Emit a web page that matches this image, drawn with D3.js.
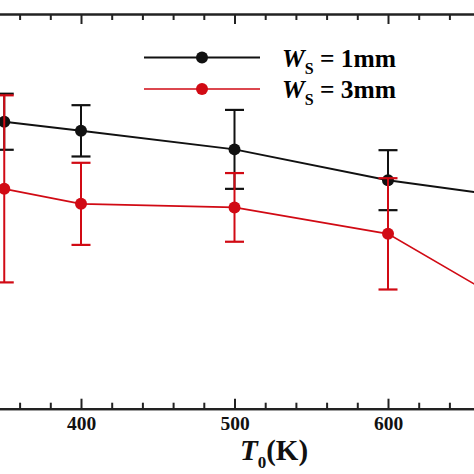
<!DOCTYPE html>
<html>
<head>
<meta charset="utf-8">
<script src="https://cdn.jsdelivr.net/npm/d3@7"></script>
<style>
  html, body { margin: 0; padding: 0; background: #fff; }
  svg { display: block; }
  text { font-family: "Liberation Serif", "Times New Roman", serif; font-weight: bold; }
</style>
</head>
<body>
<svg id="chart" width="474" height="474"></svg>
<script>
// ---- data ----
const temperatures = [350, 400, 500, 600, 700];
const seriesNames = ["1mm", "3mm"];
const ws1Values = [7.27, 7.04, 6.57, 5.79, 5.26];
const ws1Errors = [0.71, 0.65, 1.00, 0.76, 0.70];
const ws3Values = [5.57, 5.19, 5.10, 4.43, 2.17];
const ws3Errors = [2.37, 1.04, 0.87, 1.41, 1.00];
const majorTicks = [300, 400, 500, 600, 700];
const labelTicks = [400, 500, 600];
const minorTicks = d3.range(300, 701, 20).filter(v => v % 100 !== 0);

const colors = ["#111111", "#d10a14"];

const svg = d3.select("#chart");
svg.append("rect").attr("width", 474).attr("height", 474).attr("fill", "#fff");

const x = d3.scaleLinear().domain([300, 700]).range([-72.5, 541.5]);
const y = d3.scaleLinear().domain([0, 10]).range([408.7, 14]);

const axisColor = "#222";

function styleAxis(g) {
  g.selectAll("path.domain").attr("stroke", axisColor).attr("stroke-width", 2.2);
  g.selectAll(".tick line").attr("stroke", axisColor).attr("stroke-width", 2);
}

// bottom axis
const bY = 408.7;
svg.append("g").attr("transform", `translate(0,${bY})`)
  .call(d3.axisBottom(x).tickValues(minorTicks).tickSize(-6).tickSizeOuter(0).tickFormat(""))
  .call(styleAxis);
svg.append("g").attr("transform", `translate(0,${bY})`)
  .call(d3.axisBottom(x).tickValues(majorTicks).tickSize(-10).tickSizeOuter(0).tickFormat(""))
  .call(styleAxis);
const gL = svg.append("g").attr("transform", `translate(0,${bY})`)
  .call(d3.axisBottom(x).tickValues(labelTicks).tickSize(0).tickSizeOuter(0).tickPadding(7).tickFormat(d3.format("d")));
gL.select("path.domain").remove();
gL.selectAll(".tick line").remove();
gL.selectAll(".tick text").attr("font-size", 19.5).attr("fill", "#111")
  .attr("font-family", "Liberation Serif").attr("font-weight", "bold");

// top axis
const tY = 14;
svg.append("g").attr("transform", `translate(0,${tY})`)
  .call(d3.axisTop(x).tickValues(minorTicks).tickSize(-6).tickSizeOuter(0).tickFormat(""))
  .call(styleAxis);
svg.append("g").attr("transform", `translate(0,${tY})`)
  .call(d3.axisTop(x).tickValues(majorTicks).tickSize(-10).tickSizeOuter(0).tickFormat(""))
  .call(styleAxis);

// axis title
const title = svg.append("text").attr("x", 274).attr("y", 460).attr("text-anchor", "middle")
  .attr("font-size", 29).attr("fill", "#111");
title.append("tspan").attr("font-style", "italic").text("T");
title.append("tspan").attr("font-size", 17).attr("dy", 8).text("0");
title.append("tspan").attr("dy", -8).text("(K)");

// series
const series = [
  { name: seriesNames[0], values: ws1Values, errors: ws1Errors, color: colors[0], lw: 2 },
  { name: seriesNames[1], values: ws3Values, errors: ws3Errors, color: colors[1], lw: 1.6 }
];

const line = d3.line().x(d => x(d.t)).y(d => y(d.v));
const capHalf = 9.5;

series.forEach(s => {
  const pts = temperatures.map((t, i) => ({ t, v: s.values[i], e: s.errors[i] }));
  const g = svg.append("g");
  g.append("path").datum(pts).attr("d", line).attr("fill", "none")
    .attr("stroke", s.color).attr("stroke-width", s.lw);
  const eb = g.selectAll("g.eb").data(pts).enter().append("g");
  eb.append("line").attr("x1", d => x(d.t)).attr("x2", d => x(d.t))
    .attr("y1", d => y(d.v + d.e)).attr("y2", d => y(d.v - d.e))
    .attr("stroke", s.color).attr("stroke-width", 2);
  eb.append("line").attr("x1", d => x(d.t) - capHalf).attr("x2", d => x(d.t) + capHalf)
    .attr("y1", d => y(d.v + d.e)).attr("y2", d => y(d.v + d.e))
    .attr("stroke", s.color).attr("stroke-width", 2.2);
  eb.append("line").attr("x1", d => x(d.t) - capHalf).attr("x2", d => x(d.t) + capHalf)
    .attr("y1", d => y(d.v - d.e)).attr("y2", d => y(d.v - d.e))
    .attr("stroke", s.color).attr("stroke-width", 2.2);
  g.selectAll("circle").data(pts).enter().append("circle")
    .attr("cx", d => x(d.t)).attr("cy", d => y(d.v)).attr("r", 6)
    .attr("fill", s.color);
});

// legend
const legY = [57.5, 89];
series.forEach((s, i) => {
  const g = svg.append("g");
  g.append("line").attr("x1", 144).attr("x2", 260).attr("y1", legY[i]).attr("y2", legY[i])
    .attr("stroke", s.color).attr("stroke-width", s.lw);
  g.append("circle").attr("cx", 202).attr("cy", legY[i]).attr("r", 6).attr("fill", s.color);
  const t = g.append("text").attr("x", 282).attr("y", legY[i] + 9).attr("font-size", 25.5).attr("fill", "#000");
  t.append("tspan").attr("font-style", "italic").text("W");
  t.append("tspan").attr("font-size", 16).attr("dy", 7).text("S");
  t.append("tspan").attr("dy", -7).text(" = " + s.name);
});
</script>
</body>
</html>
